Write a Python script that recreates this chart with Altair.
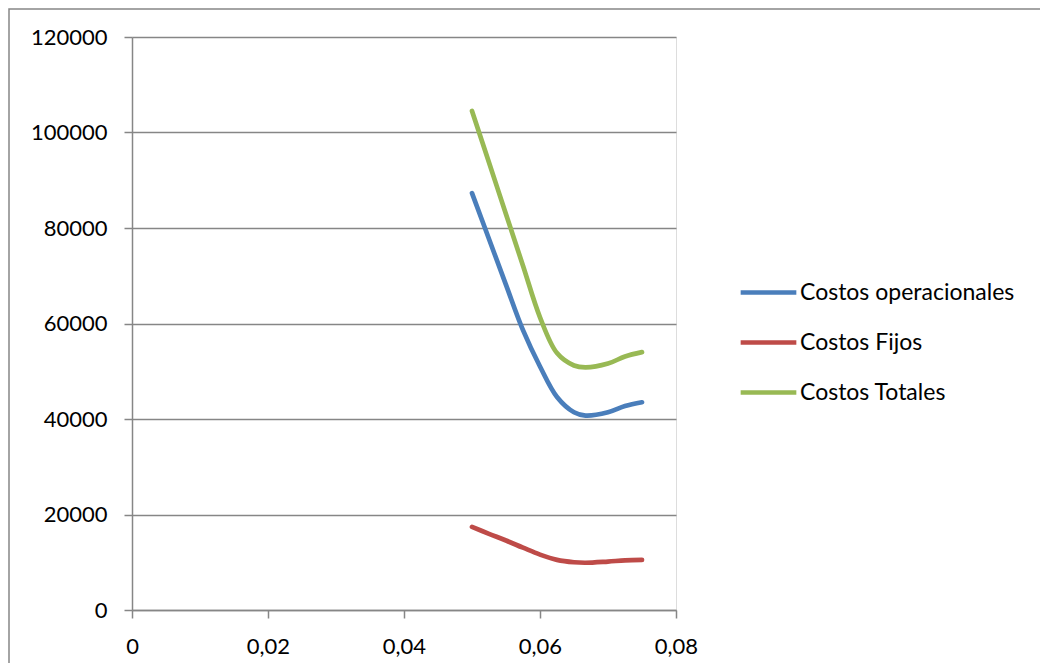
import altair as alt
import pandas as pd

# x positions (same for all series)
x_vals = [0.05, 0.0525, 0.055, 0.0575, 0.06, 0.0625, 0.065, 0.0667, 0.07, 0.0725, 0.075]
operacionales = [87300, 77700, 68100, 58600, 51000, 44600, 41400, 40700, 41400, 42700, 43500]
fijos = [17400, 15950, 14550, 13050, 11600, 10500, 10000, 9900, 10150, 10400, 10500]
totales = [104500, 93700, 82900, 72100, 61300, 53800, 51200, 50800, 51600, 53100, 54000]

series_names = ["Costos operacionales", "Costos Fijos", "Costos Totales"]
series_colors = ["#4A7EBB", "#BE4B48", "#98B954"]
y_ticks = [0, 20000, 40000, 60000, 80000, 100000, 120000]
x_ticks = [0, 0.02, 0.04, 0.06, 0.08]

rows = []
for name, vals in zip(series_names, [operacionales, fijos, totales]):
    for i, (xv, yv) in enumerate(zip(x_vals, vals)):
        rows.append({"serie": name, "x": xv, "y": yv, "orden": i})
df = pd.DataFrame(rows)

FONT = "Lato"
GRID = "#868686"

lines = alt.Chart(df).mark_line(
    interpolate="catmull-rom", strokeWidth=4.7, strokeCap="round", clip=False
).encode(
    x=alt.X(
        "x:Q",
        scale=alt.Scale(domain=[0, 0.08], nice=False, zero=True),
        axis=alt.Axis(
            values=x_ticks,
            title=None,
            grid=False,
            labelExpr="replace(format(datum.value, '.2~f'), '.', ',')",
            labelFont=FONT,
            labelFontSize=22,
            labelColor="#000000",
            labelPadding=18,
            tickSize=8,
            tickColor=GRID,
            tickWidth=1.5,
            domainColor=GRID,
            domainWidth=1.5,
            labelFlush=False,
        ),
    ),
    y=alt.Y(
        "y:Q",
        scale=alt.Scale(domain=[0, 120000], nice=False),
        axis=alt.Axis(
            values=y_ticks,
            title=None,
            format="d",
            grid=True,
            gridColor=GRID,
            gridWidth=1.5,
            labelFont=FONT,
            labelFontSize=22,
            labelColor="#000000",
            labelPadding=17,
            tickSize=8,
            tickColor=GRID,
            tickWidth=1.5,
            domainColor=GRID,
            domainWidth=1.5,
            labelFlush=False,
        ),
    ),
    color=alt.Color(
        "serie:N",
        scale=alt.Scale(domain=series_names, range=series_colors),
        sort=series_names,
        legend=alt.Legend(
            title=None,
            orient="none",
            legendX=606,
            legendY=225,
            symbolType="stroke",
            symbolSize=3100,
            symbolStrokeWidth=4.7,
            labelFont=FONT,
            labelFontSize=23,
            labelColor="#000000",
            labelOffset=1,
            labelLimit=0,
            rowPadding=7,
        ),
    ),
    order="orden:O",
)

border = alt.Chart(pd.DataFrame({"b": [0]})).mark_rect(
    filled=False, stroke=GRID, strokeWidth=1.5, clip=False
).encode(
    x=alt.value(-123),
    x2=alt.value(1200),
    y=alt.value(-28),
    y2=alt.value(900),
)

chart = alt.layer(border, lines).properties(
    width=544,
    height=573,
    autosize=alt.AutoSizeParams(type="none"),
    padding={"left": 124, "top": 29, "right": 364, "bottom": 53},
).configure_view(stroke=None).configure(background="white")

chart.save("out.html", embed_options={"renderer": "svg", "actions": False})
